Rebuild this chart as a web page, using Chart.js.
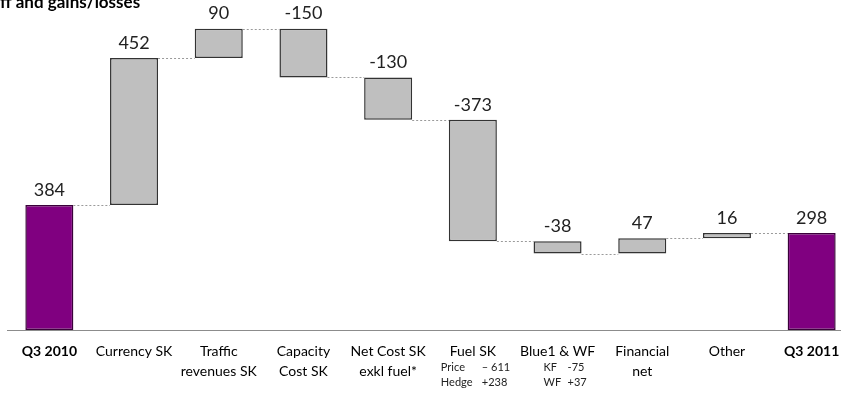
<!DOCTYPE html>
<html>
<head>
<meta charset="utf-8">
<script src="https://cdn.jsdelivr.net/npm/chart.js@4"></script>
<style>
  html, body { margin: 0; padding: 0; background: #fff; overflow: hidden; }
  #wrap { width: 841px; height: 394px; overflow: hidden; position: relative; }
</style>
</head>
<body>
<div id="wrap"><canvas id="wf" width="854" height="394"></canvas></div>
<script>
document.addEventListener("DOMContentLoaded", () => {
  const categories = [
    "Q3 2010",
    ["Currency SK"],
    ["Traffic", "revenues SK"],
    ["Capacity", "Cost SK"],
    ["Net Cost SK", "exkl fuel*"],
    ["Fuel SK"],
    ["Blue1 & WF"],
    ["Financial", "net"],
    ["Other"],
    "Q3 2011",
  ];
  const startValue = 384;
  const changes = [452, 90, -150, -130, -373, -38, 47, 16];
  const endValue = 298;
  const fuelNotes = [["Price", "\u2013 611"], ["Hedge", "+238"]];
  const blueNotes = [["KF", "-75"], ["WF", "+37"]];
  const title = "ff and gains/losses";

  // floating bars: [from, to]
  const bars = [[0, startValue]];
  const levels = [startValue];
  let run = startValue;
  changes.forEach((c) => {
    bars.push([run, run + c]);
    run += c;
    levels.push(run);
  });
  bars.push([0, endValue]);
  const labels = [startValue].concat(changes, [endValue]).map(String);

  const isTotal = (i) => i === 0 || i === categories.length - 1;

  const connectors = {
    id: "connectors",
    afterDatasetsDraw(chart) {
      const ctx = chart.ctx;
      const meta = chart.getDatasetMeta(0);
      const y = chart.scales.y;
      ctx.save();
      ctx.strokeStyle = "#9a9a9a";
      ctx.lineWidth = 1;
      ctx.setLineDash([2, 2]);
      for (let i = 0; i < meta.data.length - 1; i++) {
        const a = meta.data[i], b = meta.data[i + 1];
        const py = Math.round(y.getPixelForValue(levels[i])) + 0.5;
        ctx.beginPath();
        ctx.moveTo(a.x + a.width / 2, py);
        ctx.lineTo(b.x - b.width / 2, py);
        ctx.stroke();
      }
      ctx.setLineDash([]);

      // value labels
      ctx.fillStyle = "#222";
      ctx.font = "18px Lato";
      ctx.textAlign = "center";
      ctx.textBaseline = "middle";
      meta.data.forEach((bar, i) => {
        const top = Math.min(bar.y, bar.base);
        ctx.fillText(labels[i], bar.x, top - 15);
      });

      // small notes under Fuel SK and Blue1 & WF
      ctx.font = "11px Lato";
      ctx.textAlign = "left";
      const fx = meta.data[5].x, bx = meta.data[6].x;
      [367, 382].forEach((ty, r) => {
        ctx.fillText(fuelNotes[r][0], fx - 32, ty);
        ctx.fillText(fuelNotes[r][1], fx + 9, ty);
        ctx.fillText(blueNotes[r][0], bx - 14, ty);
        ctx.fillText(blueNotes[r][1], bx + 10, ty);
      });

      // title, clipped at left
      ctx.font = "bold 17px Lato";
      ctx.fillStyle = "#000";
      ctx.textBaseline = "alphabetic";
      ctx.fillText(title, 0, 8);
      ctx.restore();
    },
  };

  new Chart(document.getElementById("wf"), {
    type: "bar",
    data: {
      labels: categories,
      datasets: [
        {
          data: bars,
          backgroundColor: categories.map((c, i) => (isTotal(i) ? "#800080" : "#bfbfbf")),
          borderColor: categories.map((c, i) => (isTotal(i) ? "#3a003a" : "#333333")),
          borderWidth: 1.5,
          borderSkipped: false,
          barPercentage: 0.567,
          categoryPercentage: 1,
        },
      ],
    },
    options: {
      responsive: false,
      animation: false,
      layout: { padding: { left: 7, right: 0, top: 0, bottom: 0 } },
      plugins: { legend: { display: false }, tooltip: { enabled: false } },
      scales: {
        x: {
          grid: { display: false, drawTicks: false },
          border: { display: true, color: "#8c8c8c", width: 1 },
          afterFit: (scale) => { scale.height = 64; },
          ticks: {
            padding: 11,
            maxRotation: 0,
            autoSkip: false,
            color: "#000",
            font: (ctx) => ({
              family: "Lato",
              size: 14,
              lineHeight: "20px",
              weight: ctx.index === 0 || ctx.index === categories.length - 1 ? "bold" : "normal",
            }),
          },
        },
        y: { display: false, min: 0, max: 1014 },
      },
    },
    plugins: [connectors],
  });
});
</script>
</body>
</html>
